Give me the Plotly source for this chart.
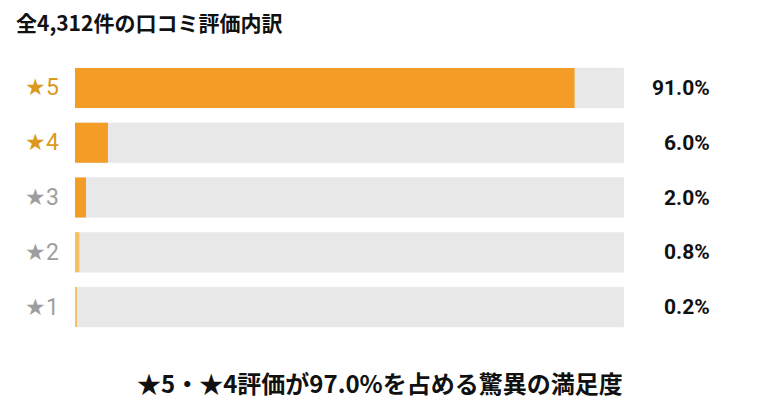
import plotly.graph_objects as go

stars = ["★5", "★4", "★3", "★2", "★1"]
values = [91.0, 6.0, 2.0, 0.8, 0.2]
labels = ["91.0%", "6.0%", "2.0%", "0.8%", "0.2%"]
bar_colors = ["#F39C26", "#F39C26", "#F39C26", "#F7C063", "#F7C063"]
star_colors = ["#D99A1E", "#D99A1E", "#9E9E9E", "#9E9E9E", "#9E9E9E"]
title = "全4,312件の口コミ評価内訳"
footer = "★5・★4評価が97.0%を占める驚異の満足度"

W, H, O = 760, 414, 8
def px(x): return (x - O) / W
def py(y): return 1 - (y - O) / H

font = "Noto Sans CJK JP"
fig = go.Figure()
fig.add_bar(y=stars, x=[100]*5, orientation="h", marker_color="#E8E8E8",
            width=0.73, hoverinfo="skip")
fig.add_bar(y=stars, x=values, orientation="h", marker_color=bar_colors,
            width=0.73, marker_line_width=0)
for s, c, l in zip(stars, star_colors, labels):
    fig.add_annotation(x=px(42), xref="paper", y=s, yref="y", text=s, showarrow=False,
                       xanchor="center", font=dict(size=23, color=c, family="Roboto"))
    fig.add_annotation(x=px(712), xref="paper", y=s, yref="y", text=f"<b>{l}</b>", showarrow=False,
                       xanchor="right", font=dict(size=21, color="#111", family="Roboto"))
fig.add_annotation(x=px(14), xref="paper", y=py(22), yref="paper", text=f"<b>{title}</b>",
                   showarrow=False, xanchor="left", yanchor="middle",
                   font=dict(size=21, color="#111", family=font))
fig.add_annotation(x=px(380), xref="paper", y=py(382), yref="paper", text=f"<b>{footer}</b>",
                   showarrow=False, xanchor="center", yanchor="middle",
                   font=dict(size=24, color="#111", family=font))
fig.update_layout(
    width=W, height=H, margin=dict(l=0, r=0, t=0, b=0),
    barmode="overlay", showlegend=False,
    plot_bgcolor="white", paper_bgcolor="white",
    xaxis=dict(range=[0, 100], domain=[px(75), px(624)], visible=False, fixedrange=True),
    yaxis=dict(categoryorder="array", categoryarray=stars[::-1], range=[-0.5, 4.5],
               domain=[py(334.4), py(60.6)], visible=False),
)
fig.write_html("out.html")
